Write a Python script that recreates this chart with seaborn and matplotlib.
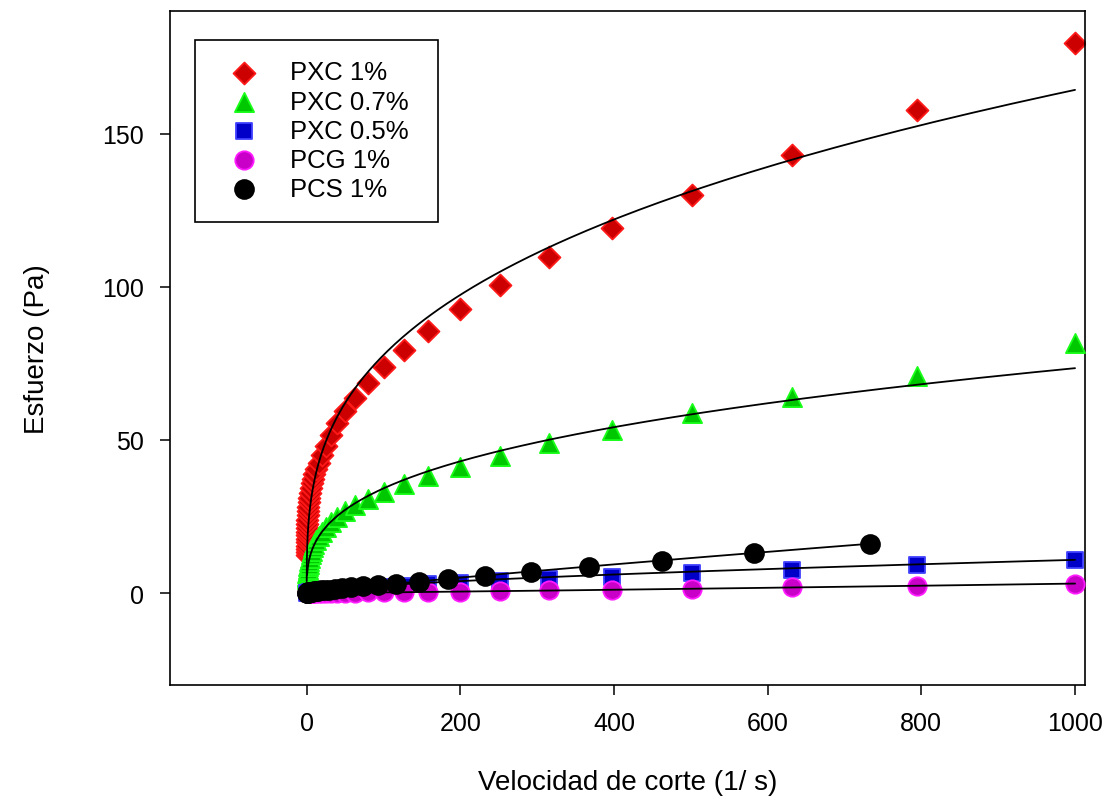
import numpy as np
import pandas as pd
import matplotlib
matplotlib.use("Agg")
import matplotlib.pyplot as plt
import seaborn as sns

# ---------------- data ----------------
shear_pxc1 = [0.1, 0.126, 0.158, 0.2, 0.251, 0.316, 0.398, 0.501, 0.631, 0.794,
              1, 1.26, 1.58, 2, 2.51, 3.16, 3.98, 5.01, 6.31, 7.94,
              10, 12.6, 15.8, 20, 25.1, 31.6, 39.8, 50.1, 63.1, 79.4,
              100, 126, 158, 200, 251, 316, 398, 501, 631, 794, 1000]
stress_pxc1 = [12.5, 13.5, 14.5, 15.5, 16.6, 17.7, 18.9, 20.1, 21.4, 22.7,
               24, 25.4, 26.8, 28.2, 29.7, 31.2, 32.7, 34.2, 35.8, 37.3,
               38.9, 40.6, 42.5, 45, 48, 51.5, 55.5, 59.5, 63.6, 68.5,
               73.7, 79.5, 85.7, 92.6, 100.6, 109.7, 119.2, 129.9, 142.9, 157.8, 179.5]

shear_pxc07 = [0.501, 0.631, 0.794,
               1, 1.26, 1.58, 2, 2.51, 3.16, 3.98, 5.01, 6.31, 7.94,
               10, 12.6, 15.8, 20, 25.1, 31.6, 39.8, 50.1, 63.1, 79.4,
               100, 126, 158, 200, 251, 316, 398, 501, 631, 794, 1000]
stress_pxc07 = [4.5, 5.1, 5.7,
                6.4, 7.1, 7.9, 8.7, 9.6, 10.5, 11.5, 12.6, 13.7, 14.9,
                16.1, 17.4, 18.7, 20.1, 21.6, 23.2, 24.8, 26.7, 28.8, 30.7,
                32.9, 35.6, 38.3, 41.2, 44.8, 49, 53.2, 58.8, 64, 70.8, 81.5]

shear_1000 = [1, 1.26, 1.58, 2, 2.51, 3.16, 3.98, 5.01, 6.31, 7.94,
              10, 12.6, 15.8, 20, 25.1, 31.6, 39.8, 50.1, 63.1, 79.4,
              100, 126, 158, 200, 251, 316, 398, 501, 631, 794, 1000]
stress_pxc05 = [0.08, 0.09, 0.11, 0.13, 0.15, 0.18, 0.21, 0.25, 0.29, 0.34,
                0.4, 0.47, 0.55, 0.65, 0.75, 0.9, 1.05, 1.25, 1.45, 1.7,
                2.0, 2.4, 2.8, 3.3, 3.9, 4.6, 5.4, 6.4, 7.6, 9.1, 10.8]
stress_pcg1 = [0.0025, 0.003, 0.004, 0.005, 0.006, 0.008, 0.01, 0.013, 0.016, 0.02,
               0.025, 0.032, 0.04, 0.05, 0.065, 0.08, 0.1, 0.13, 0.16, 0.2,
               0.25, 0.32, 0.4, 0.5, 0.65, 0.85, 1.1, 1.45, 1.9, 2.45, 3.1]

shear_pcs1 = [0.733, 0.923, 1.16, 1.46, 1.84, 2.32, 2.92, 3.67, 4.62, 5.82,
              7.33, 9.23, 11.6, 14.6, 18.4, 23.2, 29.2, 36.7, 46.2, 58.2,
              73.3, 92.3, 116, 146, 184, 232, 292, 367, 462, 582, 733]
stress_pcs1 = [0.11, 0.13, 0.15, 0.17, 0.2, 0.23, 0.26, 0.3, 0.35, 0.4,
               0.46, 0.53, 0.62, 0.72, 0.85, 1.0, 1.15, 1.35, 1.6, 1.9,
               2.2, 2.6, 3.1, 3.7, 4.5, 5.6, 6.9, 8.5, 10.5, 13.0, 16.1]

labels = ["PXC 1%", "PXC 0.7%", "PXC 0.5%", "PCG 1%", "PCS 1%"]

# power-law fit parameters (tau = K * rate^n)
fit_K = [17.4, 7.41, 0.135, 0.0011, 0.0442]
fit_n = [0.325, 0.332, 0.635, 1.15, 0.894]
fit_xmin = [0.01, 0.5, 0.1, 0.1, 0.7]
fit_xmax = [1000, 1000, 1000, 1000, 733]

xticks = [0, 200, 400, 600, 800, 1000]
yticks = [0, 50, 100, 150]

# ---------------- style ----------------
sns.set_style("ticks")
plt.rcParams['font.family'] = ['Liberation Sans', 'DejaVu Sans']
plt.rcParams.update({"text.color": "black", "axes.labelcolor": "black",
                     "xtick.color": "black", "ytick.color": "black",
                     "axes.edgecolor": "black"})

fig = plt.figure(figsize=(11.18, 8.04), dpi=100)
ax = fig.add_axes([0.152, 0.1468, 0.8185, 0.8382])

series_x = [shear_pxc1, shear_pxc07, shear_1000, shear_1000, shear_pcs1]
series_y = [stress_pxc1, stress_pxc07, stress_pxc05, stress_pcg1, stress_pcs1]
markers = ["D", "^", "s", "o", "o"]
faces = ["#cc0000", "#00c800", "#0000c8", "#c800c8", "#000000"]
edges = ["#ff1a1a", "#1aff1a", "#4040ff", "#ff1aff", "#000000"]
sizes = [125, 190, 140, 175, 185]

for i in range(5):
    df = pd.DataFrame({"x": series_x[i], "y": series_y[i]})
    sns.scatterplot(data=df, x="x", y="y", ax=ax, marker=markers[i], s=sizes[i],
                    color=faces[i], edgecolor=edges[i], linewidth=1.3,
                    label=labels[i], zorder=2 + i)

for i in range(5):
    xs = np.geomspace(fit_xmin[i], fit_xmax[i], 400)
    fdf = pd.DataFrame({"x": xs, "y": fit_K[i] * xs ** fit_n[i]})
    sns.lineplot(data=fdf, x="x", y="y", ax=ax, color="black", linewidth=1.3,
                 legend=False, sort=False, estimator=None, zorder=10)

ax.set_xlim(-178, 1013)
ax.set_ylim(-30, 190)
ax.set_xticks(xticks)
ax.set_yticks(yticks)
ax.tick_params(direction="out", length=7, width=1.1, pad=12, labelsize=18,
               top=False, right=False, colors="black")
for sp in ax.spines.values():
    sp.set_visible(True)
    sp.set_linewidth(1.2)
    sp.set_color("black")

ax.set_xlabel("Velocidad de corte (1/ s)", fontsize=20, labelpad=24)
ax.set_ylabel("Esfuerzo (Pa)", fontsize=20, labelpad=37)

leg = ax.legend(loc="upper left", bbox_to_anchor=(0.0273, 0.7, 0.2656, 0.2572),
                mode="expand", borderaxespad=0,
                fontsize=18.5, frameon=True, fancybox=False, framealpha=1,
                edgecolor="black", borderpad=0.8, handlelength=2.2,
                handletextpad=0.7, labelspacing=0.2)
leg.get_frame().set_linewidth(1.2)

fig.savefig("out.png", dpi=100)
